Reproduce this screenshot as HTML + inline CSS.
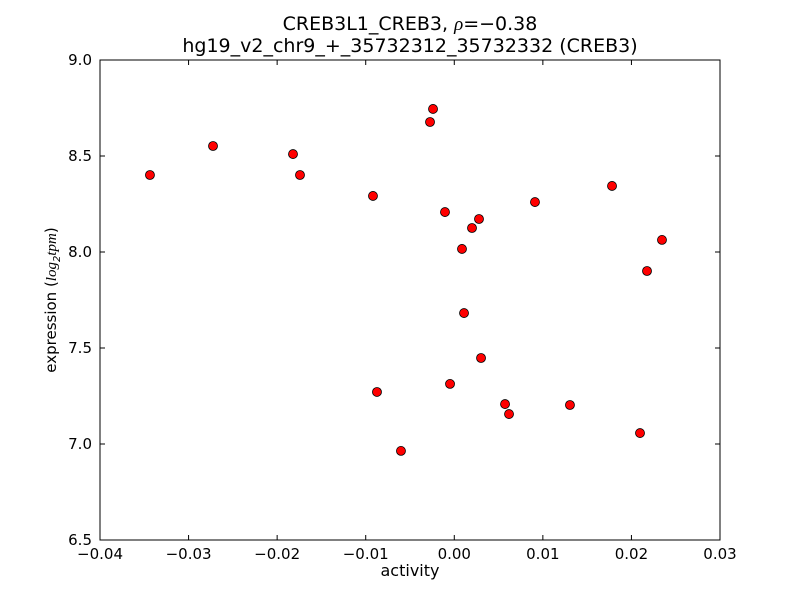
<!DOCTYPE html>
<html><head><meta charset="utf-8"><style>
html,body{margin:0;padding:0;background:#fff;}
text{font-family:"DejaVu Sans","Liberation Sans",sans-serif;}
</style></head><body>
<svg id="chart" width="800" height="600" xmlns="http://www.w3.org/2000/svg">
<rect width="800" height="600" fill="#fff"/>
<text x="410" y="30" font-size="19" text-anchor="middle">CREB3L1_CREB3, <tspan font-style="italic" font-family="Liberation Serif, serif">ρ</tspan>=−0.38</text>
<text x="410" y="52" font-size="19" text-anchor="middle">hg19_v2_chr9_+_35732312_35732332 (CREB3)</text>
<g id="axes"></g>
<g id="points"></g>
<rect x="100" y="60" width="620" height="480" fill="none" stroke="#000" stroke-width="1"/>
<text x="410" y="576" font-size="16" text-anchor="middle">activity</text>
<text transform="translate(56,300) rotate(-90)" font-size="15" text-anchor="middle">expression (<tspan font-style="italic" font-family="Liberation Serif, serif">log</tspan><tspan font-size="10" dy="4" font-style="italic">2</tspan><tspan dy="-4" font-style="italic" font-family="Liberation Serif, serif">tpm</tspan>)</text>
</svg>
<script>
const xVals=[-0.03436,-0.02724,-0.01821,-0.01742,-0.00918,-0.00873,-0.00602,-0.00274,-0.00240,-0.00105,-0.00048,0.00087,0.00110,0.00200,0.00279,0.00302,0.00573,0.00618,0.00911,0.01306,0.01781,0.02097,0.02176,0.02345];
const yVals=[8.401,8.552,8.510,8.401,8.292,7.271,6.964,8.677,8.745,8.208,7.313,8.016,7.682,8.125,8.172,7.448,7.208,7.156,8.260,7.203,8.344,7.057,7.901,8.063];
const xTicks=[-0.04,-0.03,-0.02,-0.01,0.00,0.01,0.02,0.03];
const xTickLabels=["−0.04","−0.03","−0.02","−0.01","0.00","0.01","0.02","0.03"];
const yTicks=[6.5,7.0,7.5,8.0,8.5,9.0];
const yTickLabels=["6.5","7.0","7.5","8.0","8.5","9.0"];
const X0=100,X1=720,Y0=540,Y1=60,xMin=-0.04,xMax=0.03,yMin=6.5,yMax=9.0;
function sx(v){return X0+(v-xMin)/(xMax-xMin)*(X1-X0);}
function sy(v){return Y0-(v-yMin)/(yMax-yMin)*(Y0-Y1);}
const NS="http://www.w3.org/2000/svg";
const axes=document.getElementById('axes'),pts=document.getElementById('points');
function mk(tag,attrs,parent){const e=document.createElementNS(NS,tag);for(const k in attrs)e.setAttribute(k,attrs[k]);parent.appendChild(e);return e;}
xTicks.forEach((t,i)=>{const x=sx(t);
mk('line',{x1:x,x2:x,y1:Y0,y2:Y0-5,stroke:'#000'},axes);
mk('line',{x1:x,x2:x,y1:Y1,y2:Y1+5,stroke:'#000'},axes);
const tx=mk('text',{x:x,y:Y0+19,'font-size':15,'text-anchor':'middle'},axes);


tx.textContent=xTickLabels[i];});
yTicks.forEach((t,i)=>{const y=sy(t);
mk('line',{x1:X0,x2:X0+5,y1:y,y2:y,stroke:'#000'},axes);
mk('line',{x1:X1,x2:X1-5,y1:y,y2:y,stroke:'#000'},axes);
const tx=mk('text',{x:X0-8,y:y+5,'font-size':15,'text-anchor':'end'},axes);


tx.textContent=yTickLabels[i];});
xVals.forEach((v,i)=>{
const c=mk('circle',{cx:sx(v),cy:sy(yVals[i]),r:4.5,fill:'#ff0000',stroke:'#000','stroke-width':0.8},pts);

});
</script>
</body></html>
